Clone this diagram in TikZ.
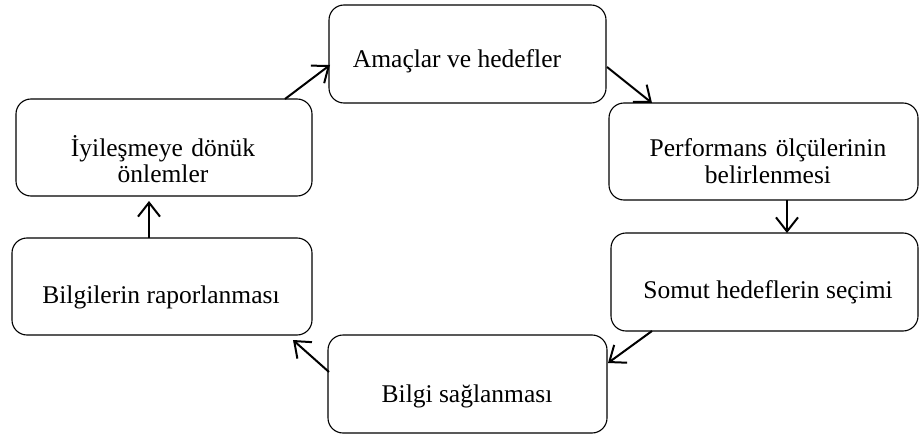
\documentclass[tikz,border=0pt]{standalone}
\usepackage{fontspec}
\setmainfont{Liberation Serif}
\usetikzlibrary{arrows.meta,calc}
\begin{document}
\begin{tikzpicture}[x=1pt,y=-1pt,
  box/.style={draw=black,line width=1.1pt,rounded corners=15pt,inner sep=0pt,outer sep=0pt},
  lbl/.style={anchor=base,inner sep=0pt,font=\fontsize{25.5}{26.5}\selectfont},
  lbl2/.style={lbl,text width=300pt,align=center},
  flow/.style={line width=2pt,-{Straight Barb[length=14pt,width=22pt]}}]
\useasboundingbox (0,0) rectangle (919,436);
% the six stages of the cycle
\node[box,minimum width=277pt,minimum height=98pt] (A) at (467.5,54) {};
\node[box,minimum width=309pt,minimum height=97pt] (B) at (763.5,151.5) {};
\node[box,minimum width=307pt,minimum height=98pt] (C) at (764.5,282) {};
\node[box,minimum width=279pt,minimum height=98pt] (D) at (467.5,384) {};
\node[box,minimum width=300pt,minimum height=97pt] (E) at (162,286.5) {};
\node[box,minimum width=296pt,minimum height=97pt] (F) at (164,147.5) {};
% stage texts
\node[lbl] (tA) at (457,67) {Amaçlar ve hedefler};
\node[lbl2] (tB) at (768,157) {Performans ölçülerinin\\belirlenmesi};
\node[lbl] (tC) at (768,298) {Somut hedeflerin seçimi};
\node[lbl] (tD) at (467,402) {Bilgi sağlanması};
\node[lbl] (tE) at (161,303) {Bilgilerin raporlanması};
\node[lbl2] (tF) at (163,156) {İyileşmeye dönük\\önlemler};
% arrows between stages
\draw[flow] ($(F.north)+(121,0)$) -- ($(A.west)+(1,11)$);
\draw[flow] ($(A.east)+(1,13)$) -- ($(B.north west)+(43,0)$);
\draw[flow] ($(B.south)+(23.5,0)$) -- ($(C.north)+(22.5,0)$);
\draw[flow] ($(C.south west)+(41,0)$) -- ($(D.east)+(1,-21)$);
\draw[flow] ($(D.west)+(1,-12)$) -- ($(E.south east)+(-19,5)$);
\draw[flow] ($(E.north)+(-13,0)$) -- ($(F.south)+(-15,5)$);
\end{tikzpicture}
\end{document}
